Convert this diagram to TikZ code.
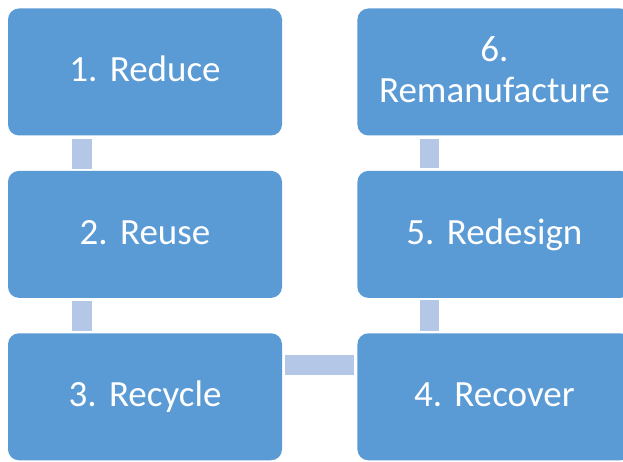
\documentclass[tikz,border=0pt]{standalone}
\usepackage{fontspec}
\setmainfont{Carlito}
\frenchspacing
\usetikzlibrary{calc,positioning}
\definecolor{StepBlue}{HTML}{5B9BD5}
\definecolor{LinkBlue}{HTML}{B4C7E7}

\tikzset{
  stepbox/.style={fill=StepBlue,rounded corners=11pt,minimum width=274pt,
    minimum height=127pt,text width=270pt,align=center,text=white,inner sep=0pt,
    font=\fontsize{37}{41}\selectfont,
    execute at begin node={\rule{0pt}{27pt}},
    execute at end node={\rule[-7pt]{0pt}{7pt}}},
  link/.style={fill=LinkBlue}
}

\begin{document}
\begin{tikzpicture}[x=1pt,y=1pt]
    \useasboundingbox (0,0) rectangle (623,462);
    \clip (0,0) rectangle (623,462);
    \node[stepbox] (reduce) at (145,390) {1. Reduce};
    \node[stepbox,below=35pt of reduce] (reuse) {2. Reuse};
    \node[stepbox,below=35pt of reuse] (recycle) {3. Recycle};
    \node[stepbox,right=75pt of recycle] (recover) {4. Recover};
    \node[stepbox,above=35pt of recover] (redesign) {5. Redesign};
    \node[stepbox,above=35pt of redesign] (reman) {6.\\Remanufacture};
    % connecting bars
    \fill[link] ($(reduce.south west)+(64,-3)$) rectangle ($(reuse.north west)+(84,2)$);
    \fill[link] ($(reuse.south west)+(64,-3)$) rectangle ($(recycle.north west)+(84,2)$);
    \fill[link] ($(recycle.north east)+(3,-22)$) rectangle ($(recover.north west)+(-3,-42)$);
    \fill[link] ($(recover.north west)+(63,2)$) rectangle ($(redesign.south west)+(82,-2)$);
    \fill[link] ($(redesign.north west)+(63,3)$) rectangle ($(reman.south west)+(82,-3)$);
\end{tikzpicture}
\end{document}
